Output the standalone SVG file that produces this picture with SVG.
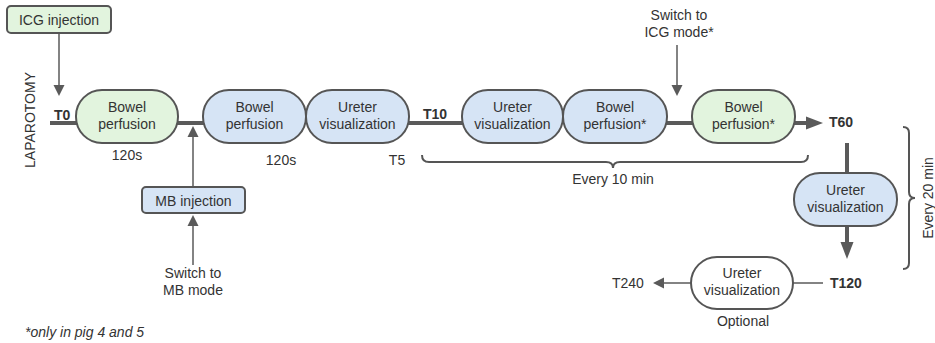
<svg xmlns="http://www.w3.org/2000/svg" width="935" height="343" viewBox="0 0 935 343">
<defs>
<style>
text{font-family:"Liberation Sans",Arial,sans-serif;font-size:14px;fill:#333}
.c{text-anchor:middle}
.b{font-weight:bold}
.g{fill:#e2f4de;stroke:#555;stroke-width:2}
.bl{fill:#d6e4f5;stroke:#555;stroke-width:2}
.w{fill:#fff;stroke:#555;stroke-width:2}
.thick{stroke:#5a5a5a;stroke-width:4;fill:none}
.thin{stroke:#5a5a5a;stroke-width:1.5;fill:none}
.brace{stroke:#555;stroke-width:2;fill:none}
.ah{fill:#5a5a5a}
</style>
<marker id="sm" viewBox="0 0 10 10" refX="10" refY="5" markerWidth="7" markerHeight="7" markerUnits="userSpaceOnUse" orient="auto"><path d="M0,0 L10,5 L0,10 z" class="ah"/></marker>
</defs>
<rect width="935" height="343" fill="#fff"/>

<g id="connectors">
<line class="thin" x1="59" y1="33" x2="59" y2="86"/>
<path class="ah" d="M53.5,85 L64.5,85 L59,96 z"/>
<line class="thick" x1="50" y1="123" x2="77" y2="123"/>
<line class="thick" x1="177" y1="123" x2="204" y2="123"/>
<line class="thick" x1="408" y1="123" x2="463" y2="123"/>
<line class="thick" x1="666" y1="123" x2="693" y2="123"/>
<line class="thick" x1="794" y1="123" x2="808" y2="123"/>
<path class="ah" d="M806,116.5 L823,123 L806,129.5 z"/>
<line class="thin" x1="193" y1="187" x2="193" y2="135"/>
<path class="ah" d="M187.5,137 L198.5,137 L193,126 z"/>
<line class="thin" x1="193" y1="265" x2="193" y2="224"/>
<path class="ah" d="M187.5,226 L198.5,226 L193,215 z"/>
<line class="thin" x1="677" y1="45" x2="677" y2="86"/>
<path class="ah" d="M671.5,85 L682.5,85 L677,96 z"/>
<line class="thick" x1="847" y1="143" x2="847" y2="174"/>
<line class="thick" x1="847" y1="225" x2="847" y2="244"/>
<path class="ah" d="M840.5,242 L853.5,242 L847,259 z"/>
<line class="thin" x1="823" y1="283" x2="792" y2="283"/>
<line class="thin" x1="691" y1="283" x2="662" y2="283"/>
<path class="ah" d="M664,277.5 L664,288.5 L653,283 z"/>
<path class="brace" d="M422,155 q0,7 7,7 H606 q7,0 7,6 q0,-6 7,-6 H801 q7,0 7,-7"/>
<path class="brace" d="M903,127 q6,0 6,6 V192 q0,6 6,6 q-6,0 -6,6 V263 q0,6 -6,6"/>
</g>

<g id="icg-injection"><rect class="g" x="7" y="6" width="104" height="27" rx="4"/><text class="c" x="59" y="25">ICG injection</text></g>
<g id="bowel1"><rect class="g" x="76" y="90" width="102" height="53" rx="26"/><text class="c" x="127" y="112">Bowel</text><text class="c" x="127" y="129">perfusion</text></g>
<g id="bowel2"><rect class="bl" x="203" y="90" width="103" height="53" rx="26"/><text class="c" x="254.5" y="112">Bowel</text><text class="c" x="254.5" y="129">perfusion</text></g>
<g id="ureter1"><rect class="bl" x="306" y="90" width="103" height="53" rx="26"/><text class="c" x="357.5" y="112">Ureter</text><text class="c" x="357.5" y="129">visualization</text></g>
<g id="ureter2"><rect class="bl" x="462" y="90" width="101" height="53" rx="26"/><text class="c" x="512.5" y="112">Ureter</text><text class="c" x="512.5" y="129">visualization</text></g>
<g id="bowel3"><rect class="bl" x="563" y="90" width="104" height="53" rx="26"/><text class="c" x="615" y="112">Bowel</text><text class="c" x="615" y="129">perfusion*</text></g>
<g id="bowel4"><rect class="g" x="692" y="90" width="103" height="53" rx="26"/><text class="c" x="743.5" y="112">Bowel</text><text class="c" x="743.5" y="129">perfusion*</text></g>
<g id="ureter3"><rect class="bl" x="794" y="173" width="103" height="53" rx="26"/><text class="c" x="845.5" y="195">Ureter</text><text class="c" x="845.5" y="212">visualization</text></g>
<g id="ureter4"><rect class="w" x="691" y="257" width="102" height="52" rx="26"/><text class="c" x="742" y="278">Ureter</text><text class="c" x="742" y="295">visualization</text></g>
<g id="mb-injection"><rect class="bl" x="142" y="187" width="103" height="26" rx="4"/><text class="c" x="193.5" y="206">MB injection</text></g>

<g id="labels">
<text class="c" transform="translate(35,120) rotate(-90)">LAPAROTOMY</text>
<text class="b" x="54" y="120">T0</text>
<text class="c" x="127" y="160">120s</text>
<text class="c" x="281" y="165">120s</text>
<text class="c" x="397" y="165">T5</text>
<text class="b" x="423" y="119">T10</text>
<text class="c" x="679" y="20">Switch to</text>
<text class="c" x="679" y="37">ICG mode*</text>
<text class="b" x="829" y="127">T60</text>
<text class="c" x="613" y="184">Every 10 min</text>
<text class="c" transform="translate(933,198) rotate(-90)">Every 20 min</text>
<text class="b" x="830" y="288">T120</text>
<text x="612" y="288">T240</text>
<text class="c" x="743" y="326">Optional</text>
<text class="c" x="193" y="278">Switch to</text>
<text class="c" x="193" y="295">MB mode</text>
<text x="25" y="337" font-style="italic">*only in pig 4 and 5</text>
</g>
</svg>
